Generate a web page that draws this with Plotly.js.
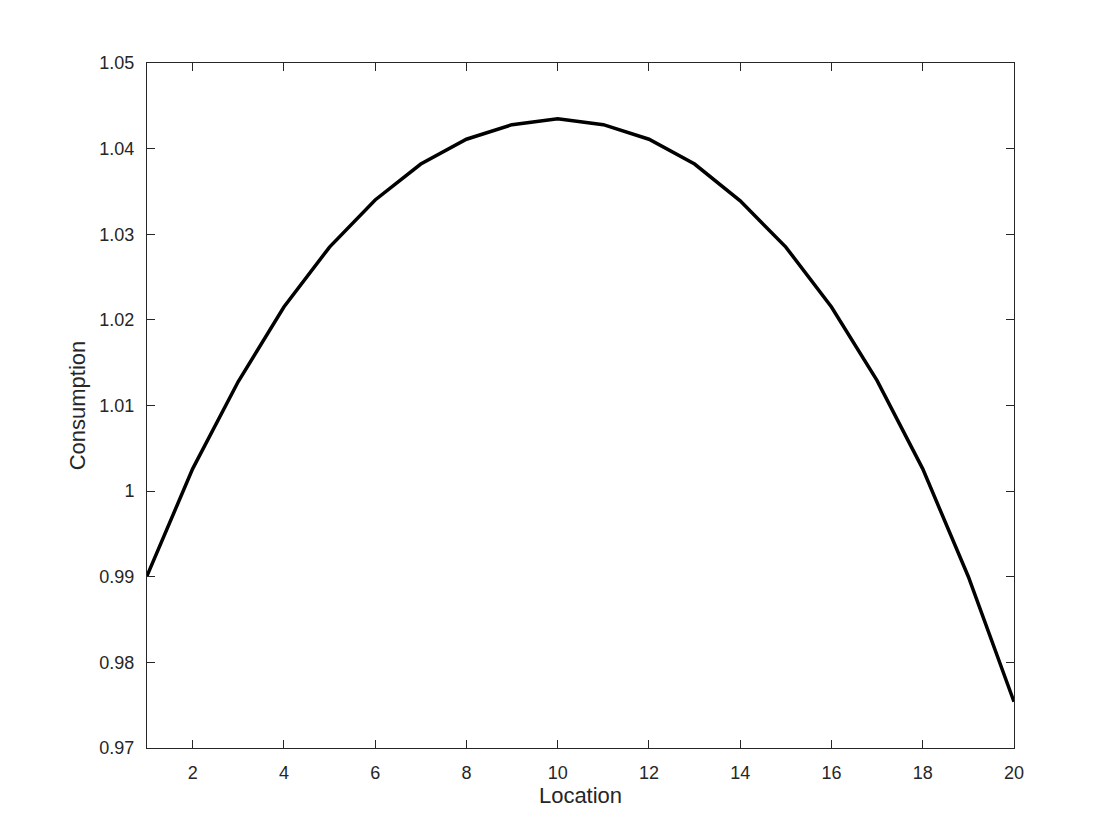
<!DOCTYPE html>
<html>
<head>
<meta charset="utf-8">
<script src="https://cdn.plot.ly/plotly-3.0.1.min.js"></script>
<style>
  body { margin: 0; background: #fff; }
  #chart { width: 1120px; height: 840px; }
</style>
</head>
<body>
<div id="chart"></div>
<script>
// Locations along the x axis
const locations = [1, 2, 3, 4, 5, 6, 7, 8, 9, 10, 11, 12, 13, 14, 15, 16, 17, 18, 19, 20];

// Consumption
const consumption = [
    0.9901, 1.0026, 1.0128, 1.0215, 1.0285, 1.0340, 1.0382, 1.0411, 1.0428, 1.0435,
    1.0428, 1.0411, 1.0382, 1.0339, 1.0285, 1.0215, 1.0129, 1.0026, 0.9900, 0.9754
];

const xTicks = [2, 4, 6, 8, 10, 12, 14, 16, 18, 20];
const yTicks = [0.97, 0.98, 0.99, 1, 1.01, 1.02, 1.03, 1.04, 1.05];
const yTickLabels = ["0.97", "0.98", "0.99", "1", "1.01", "1.02", "1.03", "1.04", "1.05"];

const fontFamily = "Liberation Sans, Arial, sans-serif";

let data = [
    {
        type: "scatter",
        mode: "lines",
        x: locations,
        y: consumption,
        line: { color: "#000000", width: 3.5 },
        showlegend: false,
        hoverinfo: "x+y"
    }
];

let axisStyle = {
    showgrid: false,
    zeroline: false,
    showline: true,
    linecolor: "#262626",
    linewidth: 1,
    mirror: "ticks",
    ticks: "inside",
    ticklen: 8,
    tickwidth: 1,
    tickcolor: "#262626",
    tickfont: { family: fontFamily, size: 18, color: "#262626" }
};

let layout = {
    width: 1120,
    height: 840,
    margin: { l: 147, r: 106, t: 63, b: 92 },
    paper_bgcolor: "#ffffff",
    plot_bgcolor: "#ffffff",
    xaxis: Object.assign({}, axisStyle, {
        range: [1, 20],
        tickvals: xTicks,
        ticklabelstandoff: 8,
        title: {
            text: "Location",
            font: { family: fontFamily, size: 22, color: "#262626" },
            standoff: 6
        }
    }),
    yaxis: Object.assign({}, axisStyle, {
        range: [0.97, 1.05],
        tickvals: yTicks,
        ticktext: yTickLabels,
        ticklabelstandoff: 8,
        title: {
            text: "Consumption",
            font: { family: fontFamily, size: 22, color: "#262626" },
            standoff: 7
        }
    })
};

Plotly.newPlot("chart", data, layout, { displayModeBar: false });
</script>
</body>
</html>
